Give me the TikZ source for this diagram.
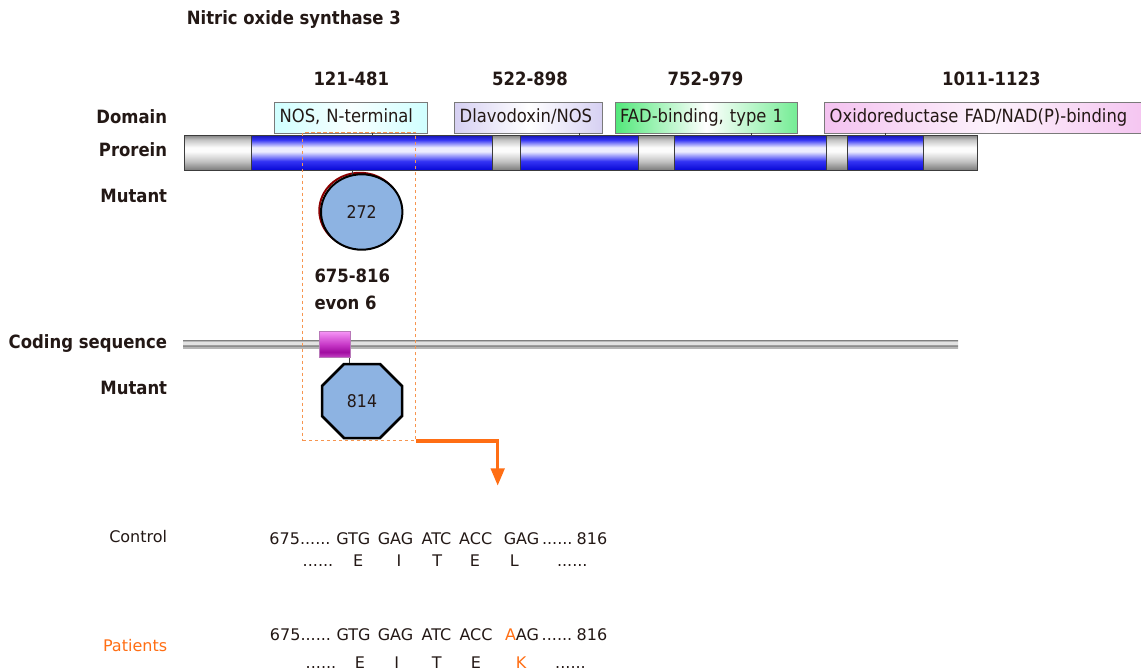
\documentclass[tikz,border=0pt]{standalone}
\usepackage{fontspec}
\setmainfont{DejaVu Sans Condensed}
\newfontfamily\seqfont{DejaVu Sans}
\usetikzlibrary{arrows.meta,shapes.geometric}

\newcommand{\dotrun}{......}

\definecolor{inkdark}{HTML}{231815}
\definecolor{hlorange}{HTML}{FF6E14}
\definecolor{frameorange}{HTML}{F7954F}
\definecolor{boxgray}{HTML}{7A7A7A}
\definecolor{edgegray}{HTML}{3C3C3C}
\definecolor{mutblue}{HTML}{8DB3E2}
\definecolor{shadowred}{HTML}{8B0000}
% protein bar colours
\definecolor{bbT}{HTML}{1818B8}
\definecolor{bbM}{HTML}{3434F4}
\definecolor{bbH}{HTML}{ECECFF}
\definecolor{bbB}{HTML}{0808D6}
\definecolor{gbT}{HTML}{8A8A8A}
\definecolor{gbM}{HTML}{C4C4C4}
\definecolor{gbH}{HTML}{FCFCFC}
\definecolor{gbB}{HTML}{7C7C7C}
% coding line colours
\definecolor{clA}{HTML}{A6A6A6}
\definecolor{clB}{HTML}{D4D4D4}
\definecolor{clC}{HTML}{8C8C8C}
\definecolor{clD}{HTML}{E2E2E2}
% exon box colours
\definecolor{mgT}{HTML}{F592F5}
\definecolor{mgM}{HTML}{C636C6}
\definecolor{mgD}{HTML}{A00CA0}
\definecolor{mgB}{HTML}{C848C8}
\definecolor{mgEdge}{HTML}{B878B8}
% domain box colours
\definecolor{nosC}{HTML}{D0FFFF}
\definecolor{dlaC}{HTML}{D6D0F2}
\definecolor{fadC}{HTML}{52E87A}
\definecolor{oxC}{HTML}{F4C2F0}

\pgfdeclareverticalshading{bluebar}{100bp}{color(0bp)=(bbB); color(25bp)=(bbB); color(38bp)=(bbM); color(52bp)=(bbH); color(58bp)=(bbH); color(69bp)=(bbM); color(75bp)=(bbT); color(100bp)=(bbT)}
\pgfdeclareverticalshading{graybar}{100bp}{color(0bp)=(gbB); color(25bp)=(gbB); color(38bp)=(gbM); color(52bp)=(gbH); color(58bp)=(gbH); color(69bp)=(gbM); color(75bp)=(gbT); color(100bp)=(gbT)}
\pgfdeclareverticalshading{codeline}{100bp}{color(0bp)=(clA); color(25bp)=(clA); color(31bp)=(clB); color(37bp)=(clC); color(45bp)=(clC); color(53bp)=(clD); color(68bp)=(clD); color(75bp)=(clA); color(100bp)=(clA)}
\pgfdeclareverticalshading{exonbar}{100bp}{color(0bp)=(mgB); color(25bp)=(mgB); color(36bp)=(mgD); color(50bp)=(mgM); color(75bp)=(mgT); color(100bp)=(mgT)}

\begin{document}
\begin{tikzpicture}[x=1pt,y=-1pt,
  lbl/.style={font=\fontsize{18.3}{21}\selectfont\bfseries, text=inkdark, inner sep=0, anchor=base east},
  rng/.style={font=\fontsize{18.3}{21}\selectfont\bfseries, text=inkdark, inner sep=0, anchor=base},
  dom/.style={draw=boxgray, line width=0.8, anchor=north west, minimum height=31,
    text height=13, text depth=4, inner xsep=5, inner ysep=0, align=left,
    font=\fontsize{18.2}{21}\selectfont, text=inkdark},
  seg/.style={draw=edgegray, line width=0.8},
  stem/.style={draw=edgegray, line width=0.9},
  seq/.style={font=\seqfont\fontsize{16}{19}\selectfont, text=inkdark, inner sep=0, anchor=base},
  side/.style={font=\seqfont\fontsize{16}{19}\selectfont, inner sep=0, anchor=base east},
]
\useasboundingbox (0,0) rectangle (1141,671);
\clip (0,0) rectangle (1141,671);

% title and position ranges
\node[lbl, anchor=base west] (title) at (186.7,25) {Nitric oxide synthase 3};
\node[rng] (r1) at (351.3,85.7) {121-481};
\node[rng] (r2) at (530,85.7) {522-898};
\node[rng] (r3) at (705.5,85.7) {752-979};
\node[rng] (r4) at (991.3,85.7) {1011-1123};

% row labels
\node[lbl] (ldomain) at (167.3,123.3) {Domain};
\node[lbl] (lprot) at (167.3,156.7) {Prorein};
\node[lbl] (lmut1) at (167.3,202.3) {Mutant};
\node[lbl] (lcds) at (167.3,348.3) {Coding sequence};
\node[lbl] (lmut2) at (167.3,394) {Mutant};

% protein bar
\foreach \a/\b/\s in {184.7/251.7/graybar, 251.7/492.7/bluebar, 492.7/520/graybar,
    520/638/bluebar, 638/674/graybar, 674/826.7/bluebar, 826.7/847.7/graybar,
    847.7/923/bluebar, 923/977/graybar}
  \draw[seg, shading=\s] (\a,135.7) rectangle (\b,170);

% domain boxes
\node[dom, minimum width=152.4, text width=142.4, left color=nosC, right color=nosC, middle color=white!85!nosC] (dnos) at (274.3,101.7) {NOS, N-terminal};
\node[dom, minimum width=148, text width=138, left color=dlaC, right color=dlaC, middle color=white] (ddla) at (454.3,101.7) {Dlavodoxin/NOS};
\node[dom, minimum width=182.2, text width=172.2, left color=fadC, right color=fadC!80!white, middle color=white] (dfad) at (614.8,101.7) {FAD-binding, type 1};
\node[dom, minimum width=330, text width=320, left color=oxC, right color=oxC, middle color=white!80!oxC] (dox) at (824.3,101.7) {Oxidoreductase FAD/NAD(P)-binding};

% domain ticks down to the bar
\draw[stem] (dnos.south -| 372,0) -- (372,135.7);
\draw[stem] (ddla.south -| 579.3,0) -- (579.3,135.7);
\draw[stem] (dfad.south -| 751,0) -- (751,135.7);
\draw[stem] (dox.south -| 885,0) -- (885,135.7);

% protein mutation
\coordinate (t272) at (352.7,170);
\draw[shadowred, line width=2] (360,210.5) ellipse [x radius=40.7, y radius=37.7];
\node[ellipse, draw=black, line width=2, fill=mutblue, minimum width=81.4, minimum height=75.4, inner sep=0,
  font=\fontsize{17.5}{20}\selectfont, text=inkdark] (m272) at (361.7,212) {272};
\draw[stem] (t272) -- (352.7,174.5);

% exon label
\node[rng, anchor=base west] (exr) at (314.3,282.3) {675-816};
\node[rng, anchor=base west] (exn) at (314.3,309) {evon 6};

% coding sequence line and exon
\path[shading=codeline] (183,340.7) rectangle (958,348.3);
\node[draw=mgEdge, line width=0.6, shading=exonbar, minimum width=31.4, minimum height=26, inner sep=0] (cds) at (335,344.7) {};

% coding mutation (octagon)
\draw[black, line width=2.5, fill=mutblue, line join=miter]
  (344,364) -- (380,364) -- (402,386) -- (402,416) -- (380,438) -- (344,438) -- (322,416) -- (322,386) -- cycle;
\node[inner sep=0, font=\fontsize{17.5}{20}\selectfont, text=inkdark] (m814) at (362,401) {814};
\draw[stem] (cds.south -| 349.3,0) -- (349.3,363);

% highlight frame and pointer
\node[draw=frameorange, dashed, dash pattern=on 3.5pt off 2.5pt, line width=1.1, minimum width=112.7, minimum height=308.3,
  inner sep=0, anchor=north west] (sel) at (302.3,131.7) {};
\coordinate (ptr) at (497.7,485.7);
\draw[hlorange, line width=3.3, line join=miter, -{Triangle[length=17.4pt,width=13.5pt]}]
  (sel.south east) -- (sel.south east -| ptr) -- (ptr);

% sequence comparison
\node[side, text=inkdark] (lctrl) at (167.3,542.3) {Control};
\node[side, text=hlorange] (lpat) at (167.3,651.7) {Patients};

\foreach \x/\t [count=\i] in {300/675\dotrun, 353.3/GTG, 395.5/GAG, 436.5/ATC, 475.7/ACC, 521.5/GAG, 557.3/\dotrun, 592/816}
  \node[seq] (ca\i) at (\x,544) {\t};
\foreach \x/\t [count=\i] in {318/\dotrun, 358.3/E, 399/I, 437.3/T, 475/E, 514.3/L, 572.3/\dotrun}
  \node[seq] (cb\i) at (\x,566.7) {\t};

\foreach \x/\t [count=\i] in {300.5/675\dotrun, 353.5/GTG, 395.5/GAG, 436.5/ATC, 476/ACC, 557/\dotrun, 592/816}
  \node[seq] (pa\i) at (\x,640.7) {\t};
\node[seq] (pamut) at (522,640.7) {\textcolor{hlorange}{A}AG};
\foreach \x/\t [count=\i] in {321/\dotrun, 360/E, 396.7/I, 436.7/T, 476/E, 570.5/\dotrun}
  \node[seq] (pb\i) at (\x,668.3) {\t};
\node[seq, text=hlorange] (pbmut) at (521,668.3) {K};
\end{tikzpicture}
\end{document}
